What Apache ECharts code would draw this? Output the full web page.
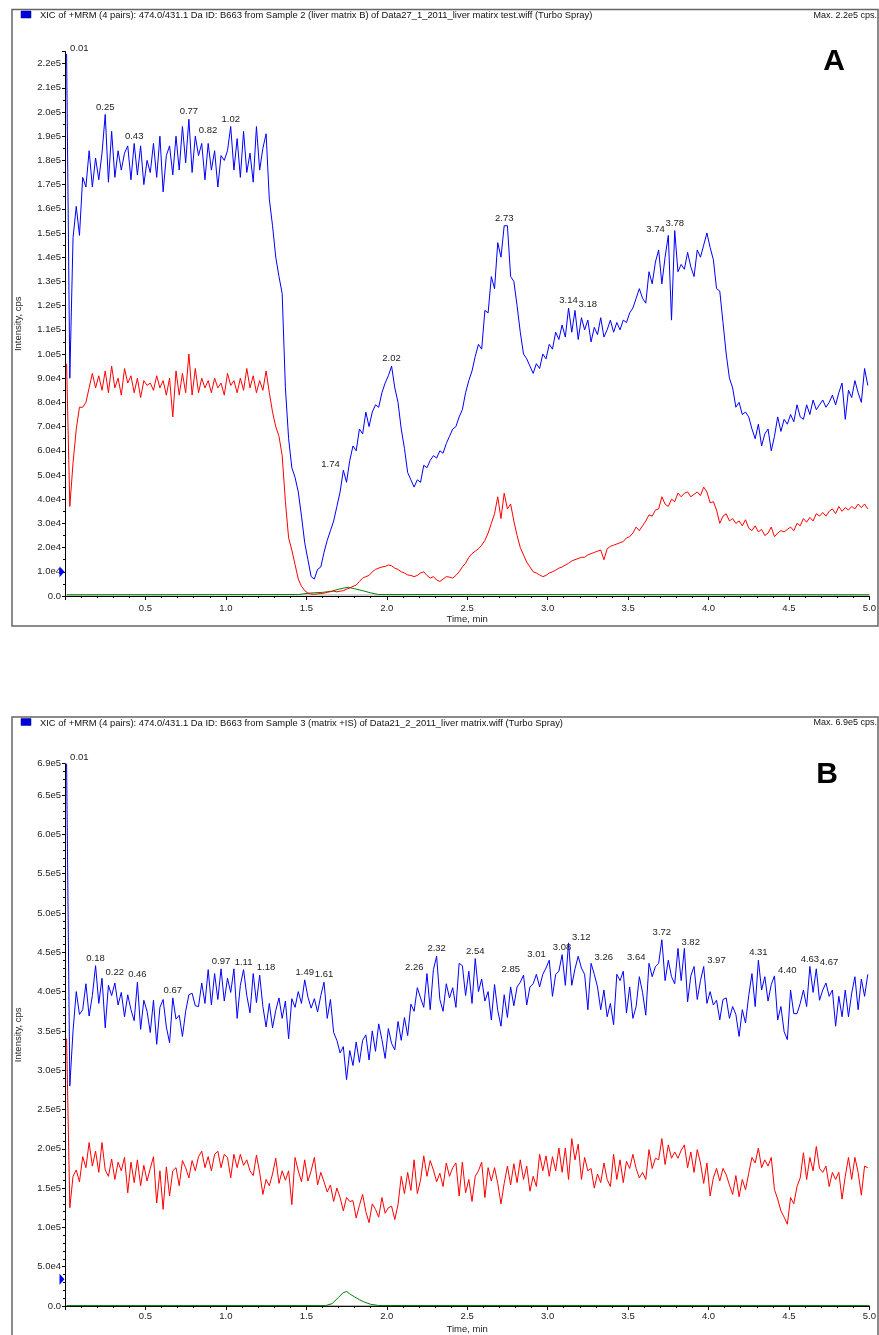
<!DOCTYPE html>
<html>
<head>
<meta charset="utf-8">
<title>XIC B663</title>
<script src="https://cdn.jsdelivr.net/npm/echarts@6/dist/echarts.min.js"></script>
<style>
html, body { margin: 0; padding: 0; background: #fff; }
#chart { width: 879px; height: 1335px; }
</style>
</head>
<body>
<div id="chart"></div>
<script>
// scan grid of the traces (min): first scan 0.01, then one every 0.02 min
const SCAN_START = 0.01
const SCAN_STEP = 0.02
const SCAN_COUNT = 250

// ---- panel A, intensity in units of 1e4 cps ----
const blueA = [
  22.4, 9.0, 14.8, 16.1, 14.9, 17.3, 16.9, 18.4, 16.9, 18.1,
  17.2, 18.3, 19.9, 17.1, 19.2, 17.3, 18.4, 17.6, 18.3, 18.6,
  17.2, 18.7, 17.4, 18.6, 17.0, 18.0, 17.5, 18.7, 17.3, 19.0,
  16.7, 18.2, 18.6, 17.4, 19.0, 17.6, 19.4, 17.9, 19.7, 17.5,
  19.0, 18.2, 18.7, 17.2, 18.7, 17.6, 18.4, 16.9, 18.2, 18.0,
  18.4, 19.4, 17.6, 18.9, 17.3, 19.2, 17.5, 18.3, 17.1, 19.4,
  17.6, 18.5, 19.1, 16.4, 15.3, 14.0, 13.2, 12.5, 8.6, 6.5,
  5.3, 4.9, 4.3, 3.3, 2.2, 1.5, 0.8, 0.7, 1.1, 1.2,
  1.8, 2.3, 2.7, 3.1, 3.7, 4.3, 5.2, 4.7, 5.6, 6.2,
  6.0, 6.9, 6.7, 7.6, 7.0, 7.6, 7.9, 7.8, 8.4, 8.8,
  9.1, 9.5, 8.6, 8.0, 6.9, 6.1, 5.1, 4.8, 4.5, 4.8,
  4.7, 5.4, 5.3, 5.6, 5.8, 5.7, 6.0, 5.9, 6.3, 6.6,
  6.9, 7.0, 7.4, 7.7, 8.4, 8.9, 9.3, 9.9, 10.4, 10.2,
  11.8, 11.7, 13.2, 12.7, 14.6, 14.0, 15.3, 15.3, 13.2, 13.0,
  12.0, 10.9, 10.0, 9.8, 9.5, 9.2, 9.6, 9.4, 10.0, 9.8,
  10.4, 10.2, 10.9, 10.6, 11.2, 10.7, 11.9, 10.9, 11.8, 10.6,
  11.5, 11.0, 11.4, 10.5, 11.1, 10.8, 11.5, 10.7, 11.0, 11.4,
  10.9, 11.3, 11.0, 11.4, 11.3, 11.7, 11.9, 12.3, 12.7, 12.3,
  12.1, 13.4, 12.9, 13.8, 14.3, 12.9, 14.0, 14.9, 11.4, 15.1,
  13.4, 13.7, 13.5, 14.2, 13.6, 13.2, 14.3, 14.0, 14.5, 15.0,
  14.4, 13.9, 12.7, 12.6, 11.3, 10.0, 9.0, 8.6, 7.8, 8.0,
  7.5, 7.6, 7.4, 6.9, 6.5, 7.1, 6.2, 6.7, 6.9, 6.0,
  6.6, 7.4, 6.8, 7.3, 7.1, 7.5, 7.2, 7.9, 7.4, 7.3,
  7.9, 7.5, 8.1, 7.7, 7.9, 8.1, 7.8, 8.0, 8.3, 7.9,
  8.4, 8.8, 7.3, 8.5, 8.2, 8.9, 8.4, 8.0, 9.4, 8.7
]
const redA = [
  9.6, 3.7, 5.5, 6.9, 7.8, 7.8, 8.0, 8.6, 9.2, 8.6,
  9.1, 8.5, 9.3, 8.4, 9.5, 8.6, 9.0, 8.3, 9.4, 8.8,
  9.1, 8.4, 9.0, 8.2, 8.9, 8.7, 8.8, 8.5, 9.1, 8.6,
  8.9, 8.3, 9.0, 7.4, 9.3, 8.3, 9.2, 8.4, 10.0, 8.3,
  9.4, 8.4, 9.0, 8.6, 8.9, 8.4, 9.0, 8.6, 8.8, 8.3,
  9.2, 8.7, 8.9, 8.4, 9.0, 8.5, 9.4, 8.6, 9.1, 8.4,
  8.9, 8.5, 9.3, 8.4, 7.6, 7.0, 6.6, 5.8, 3.9, 2.4,
  1.9, 1.3, 0.7, 0.4, 0.22, 0.12, 0.08, 0.07, 0.09, 0.1,
  0.12, 0.15, 0.18, 0.2, 0.17, 0.2, 0.22, 0.28, 0.33, 0.4,
  0.45, 0.6, 0.74, 0.8, 0.85, 1.0, 1.1, 1.15, 1.2, 1.22,
  1.28, 1.25, 1.15, 1.1, 1.0, 0.95, 0.87, 0.85, 0.8, 0.85,
  0.95, 1.0, 0.85, 0.74, 0.8, 0.66, 0.6, 0.7, 0.8, 0.78,
  0.74, 0.85, 1.0, 1.2, 1.35, 1.6, 1.75, 1.85, 1.95, 2.1,
  2.3, 2.6, 3.0, 3.4, 4.1, 3.2, 4.25, 3.6, 3.8, 3.1,
  2.5, 2.0, 1.7, 1.4, 1.2, 1.0, 0.95, 0.87, 0.8, 0.85,
  0.95, 1.0, 1.07, 1.15, 1.2, 1.28, 1.35, 1.45, 1.5, 1.55,
  1.6, 1.6, 1.7, 1.75, 1.8, 1.85, 1.9, 1.5, 1.95, 2.05,
  2.1, 2.15, 2.2, 2.25, 2.4, 2.45, 2.6, 2.85, 2.7, 2.9,
  3.1, 3.35, 3.3, 3.55, 3.6, 4.1, 3.8, 3.7, 4.0, 3.9,
  4.25, 4.1, 4.25, 4.3, 4.1, 4.2, 4.3, 4.15, 4.5, 4.3,
  3.85, 3.9, 3.55, 3.0, 3.3, 3.4, 3.1, 3.2, 3.0, 3.1,
  2.9, 3.15, 2.8, 2.7, 2.9, 2.65, 2.75, 2.5, 2.6, 2.85,
  2.45, 2.6, 2.7, 2.65, 2.75, 2.85, 2.7, 3.0, 2.9, 3.2,
  3.05, 3.25, 3.1, 3.4, 3.3, 3.45, 3.3, 3.5, 3.6, 3.4,
  3.7, 3.5, 3.65, 3.55, 3.7, 3.6, 3.8, 3.65, 3.8, 3.6
]
// [time, intensity] pairs
const greenA = [[0.01, 0.05], [1.45, 0.06], [1.52, 0.12], [1.6, 0.15], [1.66, 0.2], [1.7, 0.28],
  [1.76, 0.36], [1.8, 0.3], [1.85, 0.22], [1.9, 0.13], [1.95, 0.06], [5.0, 0.05]]
const grayA = [[0.01, 0.04], [1.0, 0.05], [2.0, 0.04], [3.0, 0.06], [4.0, 0.05], [5.0, 0.04]]
const peaksA = ['0.01', '0.25', '0.43', '0.77', '0.82', '1.02', '1.74', '2.02', '2.73',
  '3.14', '3.18', '3.74', '3.78']
const thresholdA = 1.0

// ---- panel B, intensity in units of 1e4 cps ----
const blueB = [
  69.0, 28.0, 35.0, 40.0, 37.1, 37.7, 41.0, 36.9, 39.5, 43.3,
  38.5, 41.7, 35.4, 40.8, 39.5, 41.1, 38.3, 39.9, 36.8, 39.6,
  37.7, 36.3, 41.2, 35.2, 38.9, 37.5, 34.8, 38.9, 33.3, 38.0,
  39.0, 35.5, 33.5, 39.2, 36.5, 37.0, 34.3, 37.5, 39.6, 39.8,
  38.2, 38.1, 41.1, 38.5, 42.8, 38.3, 42.3, 39.0, 42.9, 38.8,
  41.7, 39.9, 42.9, 36.6, 40.8, 42.8, 39.5, 37.3, 42.3, 38.6,
  42.1, 38.1, 35.5, 38.5, 35.4, 37.6, 39.2, 36.6, 38.8, 34.0,
  39.1, 38.0, 40.0, 38.5, 41.5, 39.3, 37.9, 39.1, 37.4, 39.5,
  41.2, 36.6, 39.0, 34.8, 33.8, 32.2, 33.0, 28.8, 32.5, 30.6,
  33.6, 31.0, 33.8, 34.5, 31.3, 35.0, 32.4, 35.9, 33.9, 31.5,
  35.3, 33.4, 32.6, 36.2, 33.8, 36.7, 34.4, 38.4, 37.5, 40.5,
  39.2, 38.0, 42.3, 37.7, 42.8, 44.5, 39.0, 37.5, 41.0, 39.2,
  40.5, 38.0, 43.6, 43.3, 39.5, 42.6, 38.5, 44.2, 40.0, 41.6,
  38.8, 40.0, 36.4, 40.9, 37.6, 35.6, 39.6, 36.7, 40.6, 38.2,
  40.6, 41.2, 42.1, 38.3, 40.6, 41.0, 42.2, 40.6, 42.2, 43.0,
  44.0, 39.4, 42.2, 42.6, 44.7, 40.8, 46.2, 40.8, 42.9, 44.5,
  43.0, 42.2, 37.7, 43.6, 42.2, 40.6, 37.7, 40.2, 36.8, 38.5,
  35.8, 42.2, 41.4, 42.6, 37.3, 40.6, 36.6, 38.1, 41.9, 39.9,
  37.0, 43.6, 41.9, 43.2, 43.6, 46.6, 41.4, 44.0, 41.9, 41.0,
  45.5, 41.4, 45.5, 38.7, 42.0, 43.2, 39.0, 41.4, 43.2, 38.5,
  40.0, 38.3, 38.9, 36.4, 39.0, 39.2, 36.6, 38.1, 37.1, 34.3,
  37.7, 36.0, 39.5, 42.3, 38.1, 44.0, 40.2, 41.9, 38.8, 40.9,
  42.0, 36.4, 38.1, 34.9, 33.9, 40.2, 37.2, 37.2, 38.5, 40.2,
  38.1, 43.2, 39.9, 42.9, 38.9, 40.2, 41.1, 39.4, 40.2, 35.6,
  39.4, 36.8, 40.2, 36.8, 39.8, 41.9, 37.7, 41.6, 39.4, 42.2
]
const redB = [
  34.0, 12.5, 16.5, 17.3, 15.8, 19.0, 17.6, 20.8, 17.8, 19.7,
  17.0, 20.8, 17.3, 16.5, 18.7, 16.1, 18.3, 17.2, 18.9, 14.4,
  18.3, 15.7, 18.6, 15.3, 17.9, 15.9, 17.5, 19.0, 13.1, 17.2,
  12.3, 17.7, 14.0, 17.2, 17.6, 15.3, 18.5, 17.6, 16.3, 18.5,
  17.2, 19.0, 19.7, 17.6, 19.0, 17.2, 19.3, 19.7, 17.6, 19.3,
  18.9, 16.3, 19.3, 17.6, 19.3, 17.9, 18.6, 17.2, 16.6, 19.2,
  17.0, 14.2, 16.1, 15.3, 16.8, 18.8, 15.6, 17.2, 16.0, 17.2,
  12.9, 18.9, 17.2, 15.8, 18.6, 15.9, 17.2, 18.9, 15.4, 17.0,
  15.8, 14.5, 15.4, 13.3, 15.0, 13.8, 12.1, 13.8, 13.3, 13.4,
  11.2, 12.8, 14.2, 12.0, 10.6, 13.0, 12.3, 11.3, 13.8, 11.8,
  12.5, 12.7, 11.0, 12.9, 16.5, 14.3, 17.0, 14.7, 18.6, 14.3,
  16.0, 19.1, 16.5, 18.5, 17.3, 15.8, 16.9, 15.2, 18.2, 16.5,
  17.6, 18.2, 14.0, 18.3, 14.4, 16.1, 13.3, 16.5, 17.2, 18.3,
  13.8, 17.6, 15.9, 17.6, 15.6, 13.0, 15.6, 17.8, 15.4, 18.1,
  15.7, 18.6, 16.1, 17.8, 14.6, 16.5, 15.2, 19.3, 17.2, 19.1,
  16.5, 19.0, 17.2, 20.1, 17.0, 20.1, 16.1, 21.3, 18.6, 20.6,
  16.1, 18.9, 17.2, 17.5, 15.0, 16.8, 15.7, 18.2, 16.1, 15.2,
  19.3, 16.1, 18.6, 15.7, 18.4, 17.5, 19.3, 17.5, 16.3, 17.0,
  16.1, 19.9, 17.5, 18.8, 18.6, 21.3, 18.0, 20.5, 18.8, 19.6,
  18.8, 19.8, 20.5, 17.6, 19.6, 17.0, 19.9, 18.2, 15.6, 18.2,
  14.0, 16.3, 17.5, 15.9, 17.5, 16.7, 15.4, 14.2, 16.6, 13.9,
  16.1, 14.8, 16.9, 18.9, 18.2, 20.1, 17.6, 18.6, 17.8, 18.9,
  14.8, 13.6, 12.1, 11.3, 10.4, 13.8, 13.0, 15.2, 16.3, 19.5,
  16.1, 18.9, 17.2, 20.3, 17.5, 17.0, 17.8, 15.2, 17.0, 16.1,
  17.0, 13.6, 16.5, 18.9, 16.1, 18.9, 17.0, 14.1, 17.8, 17.6
]
const greenB = [[0.01, 0.05], [1.62, 0.05], [1.66, 0.3], [1.7, 1.1], [1.73, 1.7], [1.75, 1.85],
  [1.77, 1.55], [1.8, 1.15], [1.83, 0.8], [1.86, 0.5], [1.9, 0.22], [1.95, 0.06], [5.0, 0.05]]
const grayB = [[0.01, 0.04], [1.0, 0.05], [2.0, 0.04], [3.0, 0.05], [4.0, 0.04], [5.0, 0.05]]
const peaksB = ['0.01', '0.18', '0.22', '0.46', '0.67', '0.97', '1.11', '1.18', '1.49', '1.61',
  '2.26', '2.32', '2.54', '2.85', '3.01', '3.08', '3.12', '3.26', '3.64', '3.72', '3.82',
  '3.97', '4.31', '4.40', '4.63', '4.67']
const thresholdB = 3.4

// labels drawn beside their peak instead of above it
const labelSide = {
  A: { '0.01': 'r', '0.82': 'r', '1.74': 'l', '3.18': 'r', '3.74': 'l' },
  B: { '0.01': 'r', '0.22': 'r', '1.18': 'r', '2.26': 'l', '2.85': 'l', '3.01': 'l', '3.12': 'r',
       '3.26': 'r', '3.64': 'l', '3.82': 'r', '3.97': 'r', '4.40': 'r', '4.67': 'r' }
}

const FONT = 'Liberation Sans, Arial, sans-serif'
const times = []
for (let i = 0; i < SCAN_COUNT; i++) times.push(+(SCAN_START + i * SCAN_STEP).toFixed(2))
const pairs = vals => vals.map((v, i) => [times[i], v])

// 1e4-unit value -> "2.2e5" style tick text
const expLabel = v => v === 0 ? '0.0' : (v * 1e4).toExponential(1).replace('e+', 'e')

const peakMarks = (vals, labels, sides, threshold) => {
  let marks = labels.map(lab => {
    const t = parseFloat(lab)
    let best = -1
    times.forEach((x, i) => {
      if (Math.abs(x - t) < 0.011 && (best < 0 || vals[i] > vals[best])) best = i
    })
    const side = sides[lab]
    let label = { position: 'top', distance: 2 }
    if (side === 'r') label = { position: 'right', distance: 3, offset: [0, -6] }
    if (side === 'l') label = { position: 'left', distance: 3, offset: [0, -6] }
    return { name: lab, coord: [times[best], vals[best]], label: label }
  })
  marks.push({
    name: '', coord: [0, threshold], symbol: 'triangle', symbolSize: [11, 5],
    symbolRotate: -90, symbolOffset: [-3, 0], itemStyle: { color: '#0000ff' }, label: { show: false }
  })
  return marks
}

const trace = (name, idx, data, color, marks) => {
  let s = {
    name: name, type: 'line', xAxisIndex: idx, yAxisIndex: idx, data: data,
    showSymbol: false, symbol: 'none', sampling: null, silent: true,
    lineStyle: { color: color, width: 1 }, itemStyle: { color: color }
  }
  if (marks) {
    s.markPoint = {
      symbol: 'circle', symbolSize: 1, itemStyle: { color: 'rgba(0,0,0,0)' },
      label: { show: true, formatter: '{b}', fontSize: 9.5, color: '#222', fontFamily: FONT },
      data: marks
    }
  }
  return s
}

const xAxisOf = (idx, margin) => ({
  gridIndex: idx, type: 'value', min: 0, max: 5, interval: 0.5,
  name: 'Time, min', nameLocation: 'middle', nameGap: 18,
  nameTextStyle: { fontSize: 9.5, color: '#222', fontFamily: FONT },
  axisLine: { show: true, onZero: false, lineStyle: { color: '#000', width: 1 } },
  axisTick: { show: true, length: 4, lineStyle: { color: '#000' } },
  minorTick: { show: true, splitNumber: 5, length: 2, lineStyle: { color: '#000' } },
  splitLine: { show: false },
  axisLabel: { fontSize: 9.5, color: '#222', fontFamily: FONT, margin: margin, showMinLabel: false,
    formatter: v => v.toFixed(1) }
})

const yAxisOf = (idx, max, interval, minorSplit) => ({
  gridIndex: idx, type: 'value', min: 0, max: max, interval: interval,
  name: 'Intensity, cps', nameLocation: 'middle', nameGap: 42, nameRotate: 90,
  nameTextStyle: { fontSize: 9.5, color: '#222', fontFamily: FONT },
  axisLine: { show: true, onZero: false, lineStyle: { color: '#000', width: 1 } },
  axisTick: { show: true, length: 3, lineStyle: { color: '#000' } },
  minorTick: { show: true, splitNumber: minorSplit, length: 2, lineStyle: { color: '#000' } },
  splitLine: { show: false },
  axisLabel: { fontSize: 9.5, color: '#222', fontFamily: FONT, margin: 4, formatter: expLabel,
    showMaxLabel: idx === 1 }
})

const header = (top, frameHeight, title, maxText, letter, lx, ly) => [
  { type: 'rect', shape: { x: 12, y: top, width: 866, height: frameHeight },
    style: { fill: 'none', stroke: '#666', lineWidth: 1.5 }, silent: true },
  { type: 'rect', shape: { x: 21, y: top + 1.5, width: 10, height: 7 },
    style: { fill: '#0000dd', stroke: '#000080', lineWidth: 0.5 } },
  { type: 'text', x: 40, y: top + 6, style: { text: title, fontSize: 9.4, fontFamily: FONT,
    fill: '#111', verticalAlign: 'middle' } },
  { type: 'text', x: 877, y: top + 6, style: { text: maxText, fontSize: 9, fontFamily: FONT,
    fill: '#111', align: 'right', verticalAlign: 'middle' } },
  { type: 'text', x: lx, y: ly, style: { text: letter, fontSize: 30, fontWeight: 'bold',
    fontFamily: FONT, fill: '#000', align: 'center', verticalAlign: 'middle' } }
]

const chart = echarts.init(document.getElementById('chart'), null, { renderer: 'canvas' })
chart.setOption({
  animation: false,
  backgroundColor: '#fff',
  grid: [
    { left: 65, right: 8, top: 51.5, bottom: 739 },
    { left: 65, right: 8, top: 763.7, bottom: 28.3 }
  ],
  xAxis: [xAxisOf(0, 7), xAxisOf(1, 5)],
  yAxis: [yAxisOf(0, 22.5, 1, 2), yAxisOf(1, 69, 5, 5)],
  series: [
    trace('gray A', 0, grayA, '#a8a8a8'),
    trace('green A', 0, greenA, '#008000'),
    trace('red A', 0, pairs(redA), '#ff0000'),
    trace('blue A', 0, pairs(blueA), '#0000ff', peakMarks(blueA, peaksA, labelSide.A, thresholdA)),
    trace('gray B', 1, grayB, '#a8a8a8'),
    trace('green B', 1, greenB, '#008000'),
    trace('red B', 1, pairs(redB), '#ff0000'),
    trace('blue B', 1, pairs(blueB), '#0000ff', peakMarks(blueB, peaksB, labelSide.B, thresholdB))
  ],
  graphic: [].concat(
    header(9.5, 616.5, 'XIC of +MRM (4 pairs): 474.0/431.1 Da ID: B663 from Sample 2 (liver matrix B) of Data27_1_2011_liver matirx test.wiff (Turbo Spray)',
      'Max. 2.2e5 cps.', 'A', 834, 62),
    header(717, 700, 'XIC of +MRM (4 pairs): 474.0/431.1 Da ID: B663 from Sample 3 (matrix +IS) of Data21_2_2011_liver matrix.wiff (Turbo Spray)',
      'Max. 6.9e5 cps.', 'B', 827, 775)
  )
})
</script>
</body>
</html>
